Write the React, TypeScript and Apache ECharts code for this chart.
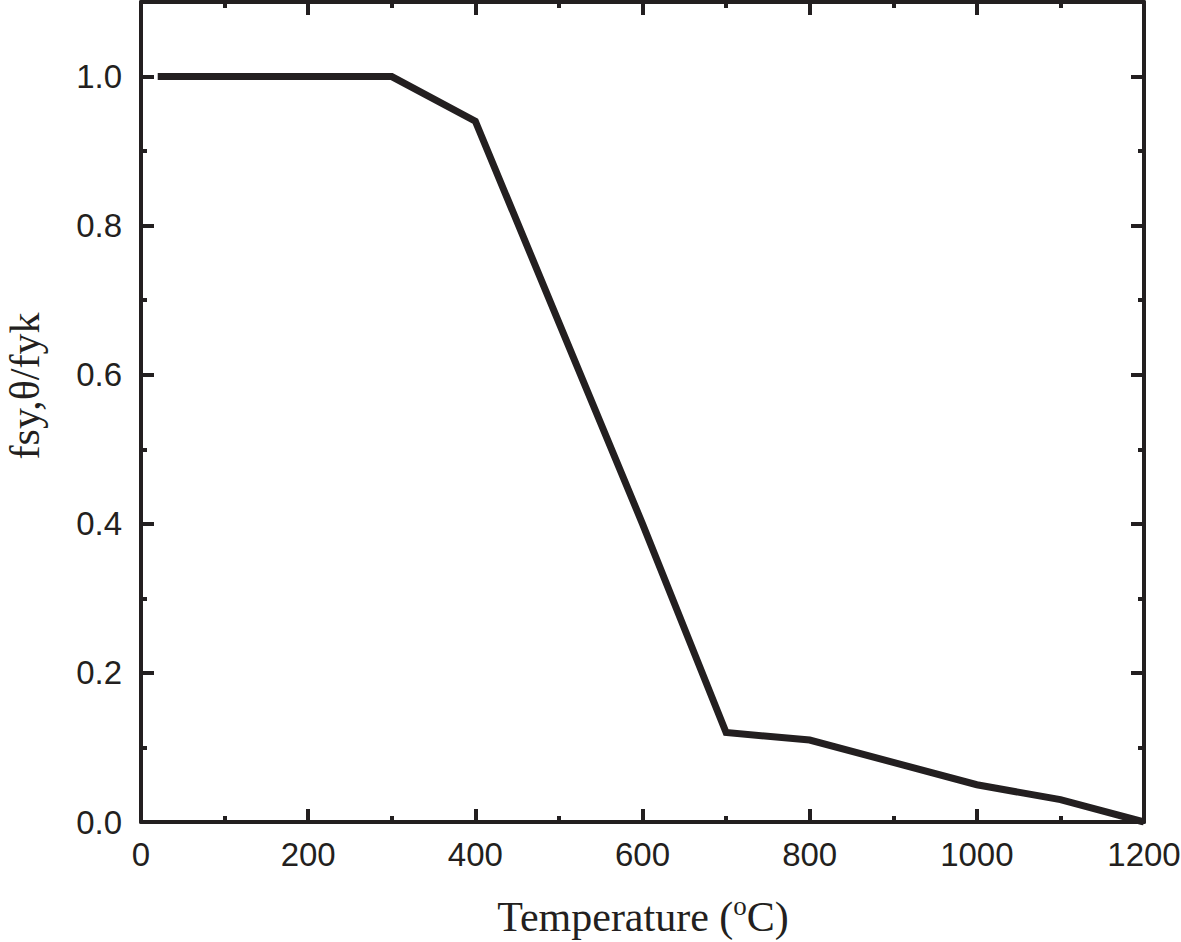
import React, { useEffect, useRef } from "react";
import * as echarts from "echarts";

const temperatures = [20, 100, 200, 300, 400, 500, 600, 700, 800, 900, 1000, 1100, 1200];
const ratios = [1.0, 1.0, 1.0, 1.0, 0.94, 0.67, 0.4, 0.12, 0.11, 0.08, 0.05, 0.03, 0.0];
const xTitle = "Temperature (";
const yTitle = "fsy,θ/fyk";

const INK = "#231f20";

export default function App() {
  const ref = useRef<HTMLDivElement>(null);
  useEffect(() => {
    if (!ref.current) return;
    const chart = echarts.init(ref.current, undefined, { renderer: "svg" });
    const data = temperatures.map((t, i) => [t, ratios[i]]);
    const labelStyle = { color: INK, fontSize: 33, fontFamily: "Liberation Sans, Arial, sans-serif" };
    const lineStyle = { color: INK, width: 4 };
    const baseX = (pos: "bottom" | "top", labels: boolean) => ({
      type: "value",
      position: pos,
      min: 0,
      max: 1200,
      interval: 200,
      axisLine: { show: true, onZero: false, lineStyle },
      axisTick: { show: true, inside: true, length: 13, lineStyle: { color: INK, width: 4 } },
      minorTick: { show: true, splitNumber: 2, length: 6, lineStyle: { color: INK, width: 4 } },
      splitLine: { show: false },
      minorSplitLine: { show: false },
      axisLabel: { show: labels, margin: 16, formatter: (v: number) => String(v), ...labelStyle },
    });
    const baseY = (pos: "left" | "right", labels: boolean, minor: boolean) => ({
      type: "value",
      position: pos,
      min: 0,
      max: 1.1,
      interval: minor ? 0.1 : 0.2,
      axisLine: { show: !minor, onZero: false, lineStyle },
      axisTick: { show: true, inside: true, length: minor ? 6 : 13, lineStyle: { color: INK, width: 4 } },
      splitLine: { show: false },
      axisLabel: {
        show: labels,
        margin: 19,
        showMaxLabel: false,
        formatter: (v: number) => v.toFixed(1),
        ...labelStyle,
      },
    });
    chart.setOption({
      animation: false,
      backgroundColor: "#ffffff",
      grid: { left: 141, right: 37, top: 2, bottom: 120, containLabel: false, outerBoundsMode: "none" },
      xAxis: [baseX("bottom", true), baseX("top", false)],
      yAxis: [
        baseY("left", true, false),
        baseY("right", false, false),
        baseY("left", false, true),
        baseY("right", false, true),
      ],
      series: [
        {
          type: "line",
          data,
          xAxisIndex: 0,
          yAxisIndex: 0,
          showSymbol: false,
          symbol: "none",
          lineStyle: { color: INK, width: 7, join: "miter", cap: "butt" },
        },
      ],
      graphic: [
        {
          type: "text",
          x: 643,
          y: 917,
          style: {
            text: `{a|${xTitle}}{s|o}{a|C)}`,
            align: "center",
            verticalAlign: "middle",
            rich: {
              a: { fontSize: 42, fontFamily: "Liberation Serif, Times New Roman, serif", fill: INK, lineHeight: 48 },
              s: { fontSize: 27, fontFamily: "Liberation Serif, Times New Roman, serif", fill: INK, lineHeight: 48, padding: [0, 0, 22, 0] },
            },
          },
        },
        {
          type: "text",
          x: 25,
          y: 386,
          rotation: Math.PI / 2,
          style: {
            text: yTitle,
            align: "center",
            verticalAlign: "middle",
            fontSize: 42,
            lineHeight: 34,
            fontFamily: "Liberation Serif, Times New Roman, serif",
            fill: INK,
          },
        },
      ],
    });
    return () => chart.dispose();
  }, []);
  return (
    <div
      ref={ref}
      style={{ position: "fixed", left: 0, top: 0, width: 1181, height: 942, background: "#fff" }}
    />
  );
}
